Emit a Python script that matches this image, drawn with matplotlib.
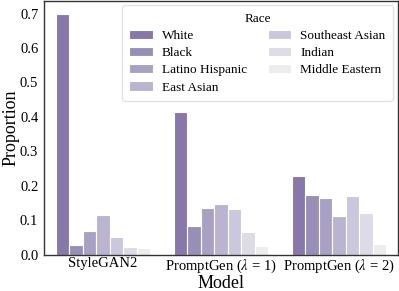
import numpy as np
import matplotlib.pyplot as plt

plt.rcParams['font.family'] = ['Liberation Serif', 'DejaVu Serif']
plt.rcParams['mathtext.fontset'] = 'stix'

models = ["StyleGAN2", r"PromptGen ($\lambda$ = 1)", r"PromptGen ($\lambda$ = 2)"]
races = ["White", "Black", "Latino Hispanic", "East Asian",
         "Southeast Asian", "Indian", "Middle Eastern"]
white = [0.700, 0.413, 0.228]
black = [0.028, 0.083, 0.172]
latino = [0.068, 0.135, 0.165]
east_asian = [0.115, 0.148, 0.113]
southeast_asian = [0.050, 0.133, 0.171]
indian = [0.023, 0.066, 0.122]
middle_eastern = [0.018, 0.024, 0.032]

colors = ["#8878aa", "#988fb6", "#a9a1c4", "#bab4d0", "#cbc7dc", "#dddbe6", "#ededee"]

series = [white, black, latino, east_asian, southeast_asian, indian, middle_eastern]

fig, ax = plt.subplots(figsize=(3.99, 2.91), dpi=100)
x = np.arange(len(models))
w = 0.8 / len(races)
for i, (vals, name) in enumerate(zip(series, races)):
    ax.bar(x - 0.4 + w * (i + 0.5), vals, w, color=colors[i], edgecolor="white",
           linewidth=0.8, label=name)

ax.set_xlim(-0.5, 2.5)
ax.set_ylim(0, 0.735)
ax.set_xticks(x)
ax.set_xticklabels(models, fontsize=10.5)
ax.set_yticks(np.arange(0, 0.71, 0.1))
ax.set_yticklabels([f"{v:.1f}" for v in np.arange(0, 0.71, 0.1)], fontsize=10.5)
ax.tick_params(axis="x", length=0, pad=2)
ax.tick_params(axis="y", length=0, pad=4)
ax.set_xlabel("Model", fontsize=13, labelpad=0)
ax.set_ylabel("Proportion", fontsize=13, labelpad=0)
for s in ax.spines.values():
    s.set_color("#333333")
    s.set_linewidth(1.0)

leg = ax.legend(title="Race", ncol=2, fontsize=9.5, title_fontsize=9.5,
                loc="upper right", bbox_to_anchor=(0.986, 0.985), borderaxespad=0,
                frameon=True, handlelength=1.75, handleheight=0.7, handletextpad=0.7,
                columnspacing=1.6, borderpad=0.55, labelspacing=0.38)
leg.get_frame().set_edgecolor("#dddddd")

fig.subplots_adjust(left=0.11, right=0.997, top=0.995, bottom=0.125)
fig.savefig("out.png", dpi=100)
